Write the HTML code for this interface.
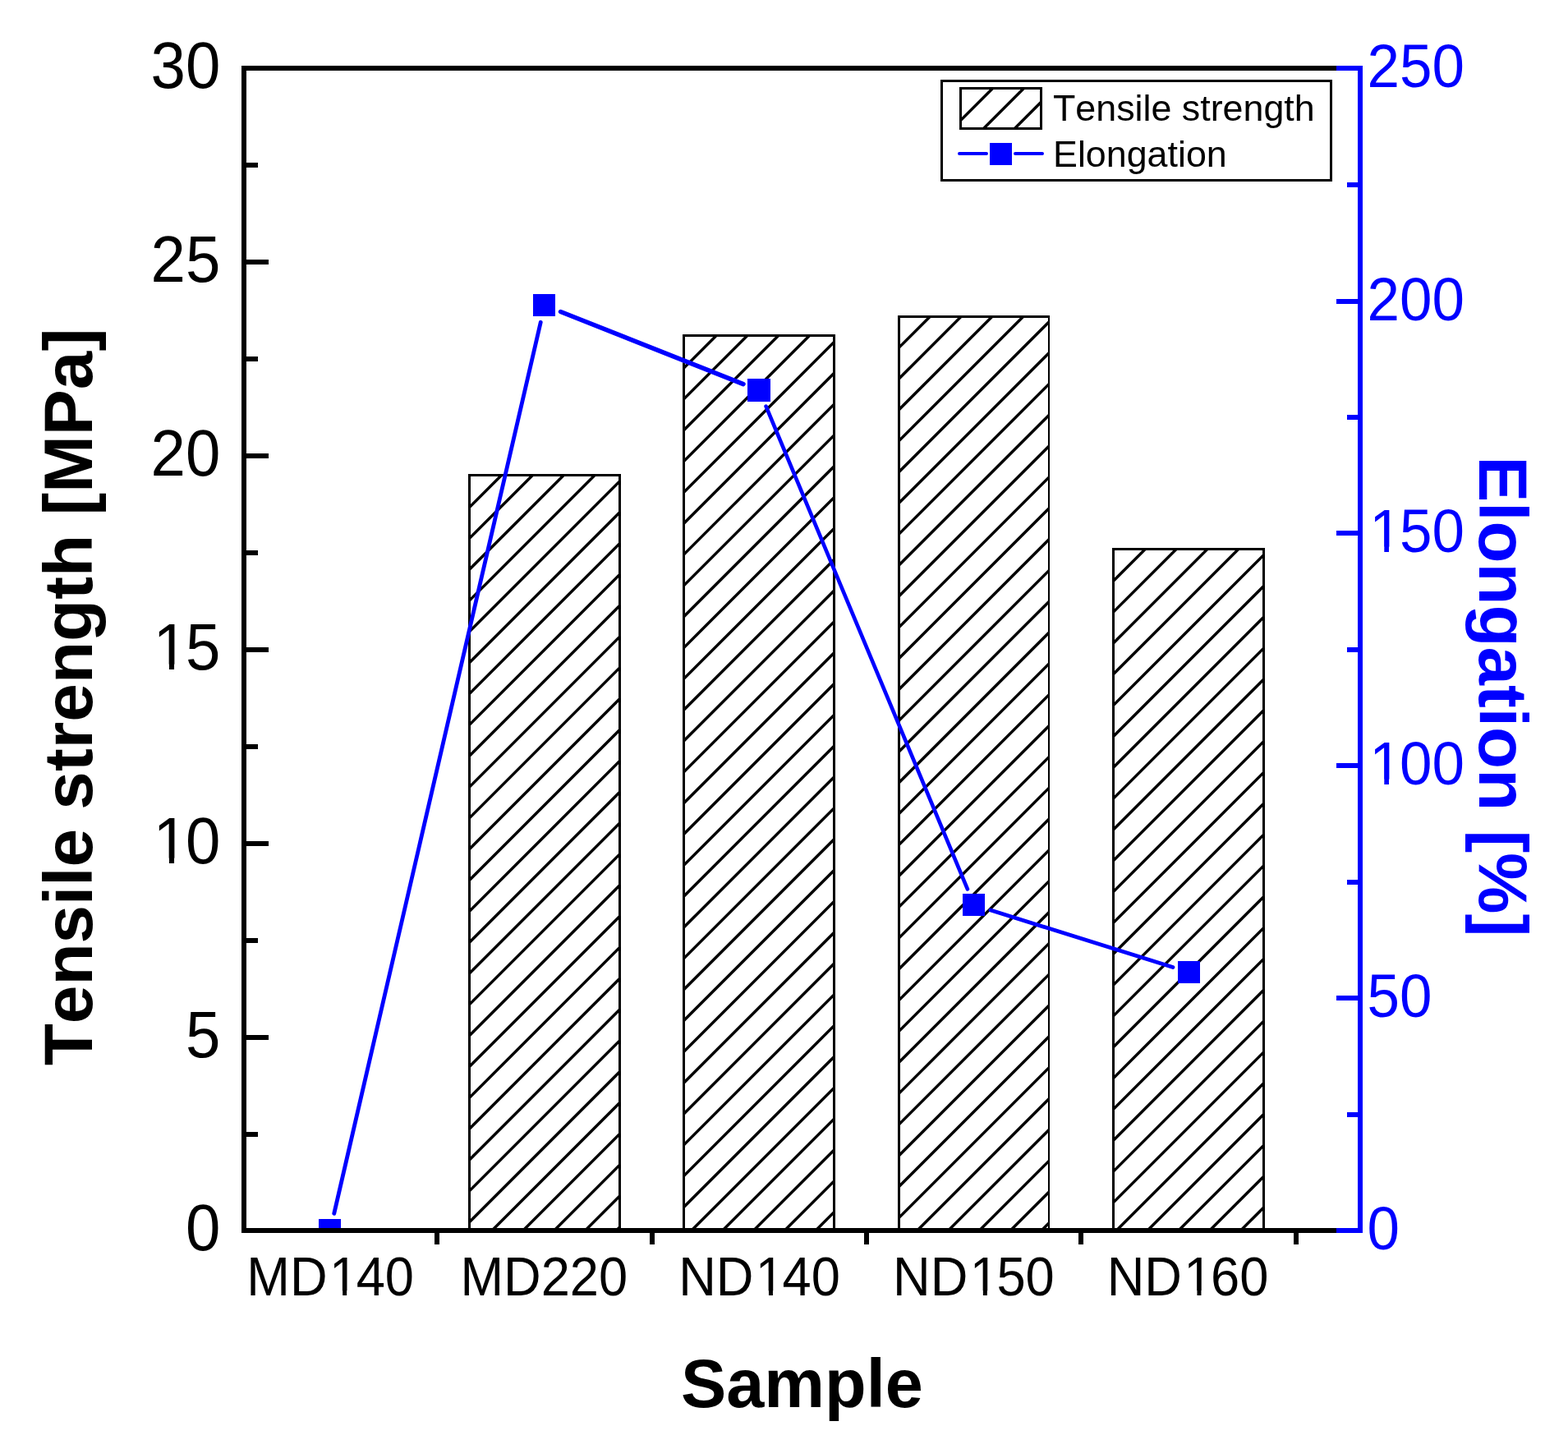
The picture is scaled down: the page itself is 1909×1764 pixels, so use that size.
<!DOCTYPE html>
<html lang="en">
<head>
<meta charset="utf-8">
<title>Tensile strength and elongation by sample</title>
<style>
html,body{margin:0;padding:0;background:#fff;}
body{width:1909px;height:1764px;overflow:hidden;font-family:'Liberation Sans', Arial, Helvetica, sans-serif;}
svg{display:block;}
text{white-space:pre;font-kerning:none;font-variant-ligatures:none;}
</style>
</head>
<body>
<svg width="1909" height="1764" viewBox="0 0 1909 1764" role="img" aria-label="Bar and line chart of tensile strength and elongation for five samples">
<rect x="0" y="0" width="1909" height="1764" fill="#fff"/>
<g id="bars">
<clipPath id="c1"><rect x="573" y="580" width="180" height="917"/></clipPath>
<rect x="570" y="577" width="186" height="920" fill="#000" shape-rendering="crispEdges"/>
<rect x="573" y="580" width="180" height="917" fill="#fff" shape-rendering="crispEdges"/>
<path d="M567.00 622.10L759.00 430.10M567.00 659.93L759.00 467.93M567.00 697.76L759.00 505.76M567.00 735.59L759.00 543.59M567.00 773.42L759.00 581.42M567.00 811.25L759.00 619.25M567.00 849.08L759.00 657.08M567.00 886.91L759.00 694.91M567.00 924.74L759.00 732.74M567.00 962.57L759.00 770.57M567.00 1000.40L759.00 808.40M567.00 1038.23L759.00 846.23M567.00 1076.06L759.00 884.06M567.00 1113.89L759.00 921.89M567.00 1151.72L759.00 959.72M567.00 1189.55L759.00 997.55M567.00 1227.38L759.00 1035.38M567.00 1265.21L759.00 1073.21M567.00 1303.04L759.00 1111.04M567.00 1340.87L759.00 1148.87M567.00 1378.70L759.00 1186.70M567.00 1416.53L759.00 1224.53M567.00 1454.36L759.00 1262.36M567.00 1492.19L759.00 1300.19M567.00 1530.02L759.00 1338.02M567.00 1567.85L759.00 1375.85M567.00 1605.68L759.00 1413.68M567.00 1643.51L759.00 1451.51M567.00 1681.34L759.00 1489.34" stroke="#000" stroke-width="3.45" fill="none" clip-path="url(#c1)"/>
<clipPath id="c2"><rect x="834" y="410" width="180" height="1087"/></clipPath>
<rect x="831" y="407" width="186" height="1090" fill="#000" shape-rendering="crispEdges"/>
<rect x="834" y="410" width="180" height="1087" fill="#fff" shape-rendering="crispEdges"/>
<path d="M828.00 452.60L1020.00 260.60M828.00 490.43L1020.00 298.43M828.00 528.26L1020.00 336.26M828.00 566.09L1020.00 374.09M828.00 603.92L1020.00 411.92M828.00 641.75L1020.00 449.75M828.00 679.58L1020.00 487.58M828.00 717.41L1020.00 525.41M828.00 755.24L1020.00 563.24M828.00 793.07L1020.00 601.07M828.00 830.90L1020.00 638.90M828.00 868.73L1020.00 676.73M828.00 906.56L1020.00 714.56M828.00 944.39L1020.00 752.39M828.00 982.22L1020.00 790.22M828.00 1020.05L1020.00 828.05M828.00 1057.88L1020.00 865.88M828.00 1095.71L1020.00 903.71M828.00 1133.54L1020.00 941.54M828.00 1171.37L1020.00 979.37M828.00 1209.20L1020.00 1017.20M828.00 1247.03L1020.00 1055.03M828.00 1284.86L1020.00 1092.86M828.00 1322.69L1020.00 1130.69M828.00 1360.52L1020.00 1168.52M828.00 1398.35L1020.00 1206.35M828.00 1436.18L1020.00 1244.18M828.00 1474.01L1020.00 1282.01M828.00 1511.84L1020.00 1319.84M828.00 1549.67L1020.00 1357.67M828.00 1587.50L1020.00 1395.50M828.00 1625.33L1020.00 1433.33M828.00 1663.16L1020.00 1471.16" stroke="#000" stroke-width="3.45" fill="none" clip-path="url(#c2)"/>
<clipPath id="c3"><rect x="1096" y="387" width="180" height="1110"/></clipPath>
<rect x="1093" y="384" width="185" height="1113" fill="#000" shape-rendering="crispEdges"/>
<rect x="1096" y="387" width="180" height="1110" fill="#fff" shape-rendering="crispEdges"/>
<path d="M1090.00 427.65L1282.00 235.65M1090.00 465.48L1282.00 273.48M1090.00 503.31L1282.00 311.31M1090.00 541.14L1282.00 349.14M1090.00 578.97L1282.00 386.97M1090.00 616.80L1282.00 424.80M1090.00 654.63L1282.00 462.63M1090.00 692.46L1282.00 500.46M1090.00 730.29L1282.00 538.29M1090.00 768.12L1282.00 576.12M1090.00 805.95L1282.00 613.95M1090.00 843.78L1282.00 651.78M1090.00 881.61L1282.00 689.61M1090.00 919.44L1282.00 727.44M1090.00 957.27L1282.00 765.27M1090.00 995.10L1282.00 803.10M1090.00 1032.93L1282.00 840.93M1090.00 1070.76L1282.00 878.76M1090.00 1108.59L1282.00 916.59M1090.00 1146.42L1282.00 954.42M1090.00 1184.25L1282.00 992.25M1090.00 1222.08L1282.00 1030.08M1090.00 1259.91L1282.00 1067.91M1090.00 1297.74L1282.00 1105.74M1090.00 1335.57L1282.00 1143.57M1090.00 1373.40L1282.00 1181.40M1090.00 1411.23L1282.00 1219.23M1090.00 1449.06L1282.00 1257.06M1090.00 1486.89L1282.00 1294.89M1090.00 1524.72L1282.00 1332.72M1090.00 1562.55L1282.00 1370.55M1090.00 1600.38L1282.00 1408.38M1090.00 1638.21L1282.00 1446.21M1090.00 1676.04L1282.00 1484.04" stroke="#000" stroke-width="3.45" fill="none" clip-path="url(#c3)"/>
<clipPath id="c4"><rect x="1357" y="670" width="180" height="827"/></clipPath>
<rect x="1354" y="667" width="186" height="830" fill="#000" shape-rendering="crispEdges"/>
<rect x="1357" y="670" width="180" height="827" fill="#fff" shape-rendering="crispEdges"/>
<path d="M1351.00 711.80L1543.00 519.80M1351.00 749.63L1543.00 557.63M1351.00 787.46L1543.00 595.46M1351.00 825.29L1543.00 633.29M1351.00 863.12L1543.00 671.12M1351.00 900.95L1543.00 708.95M1351.00 938.78L1543.00 746.78M1351.00 976.61L1543.00 784.61M1351.00 1014.44L1543.00 822.44M1351.00 1052.27L1543.00 860.27M1351.00 1090.10L1543.00 898.10M1351.00 1127.93L1543.00 935.93M1351.00 1165.76L1543.00 973.76M1351.00 1203.59L1543.00 1011.59M1351.00 1241.42L1543.00 1049.42M1351.00 1279.25L1543.00 1087.25M1351.00 1317.08L1543.00 1125.08M1351.00 1354.91L1543.00 1162.91M1351.00 1392.74L1543.00 1200.74M1351.00 1430.57L1543.00 1238.57M1351.00 1468.40L1543.00 1276.40M1351.00 1506.23L1543.00 1314.23M1351.00 1544.06L1543.00 1352.06M1351.00 1581.89L1543.00 1389.89M1351.00 1619.72L1543.00 1427.72M1351.00 1657.55L1543.00 1465.55" stroke="#000" stroke-width="3.45" fill="none" clip-path="url(#c4)"/>
</g>
<clipPath id="plot"><rect x="294" y="80" width="1365" height="1415"/></clipPath>
<g id="series" clip-path="url(#plot)">
<path d="M406.74 1477.34L658.26 392.26" stroke="#0000ff" stroke-width="4.85" stroke-linecap="round" fill="none"/>
<path d="M682.53 379.53L904.97 467.57" stroke="#0000ff" stroke-width="5.5" stroke-linecap="round" fill="none"/>
<path d="M932.59 494.68L1177.91 1082.42" stroke="#0000ff" stroke-width="4.65" stroke-linecap="round" fill="none"/>
<path d="M1206.04 1108.07L1427.96 1177.53" stroke="#0000ff" stroke-width="4.8" stroke-linecap="round" fill="none"/>
<rect x="388" y="1484" width="27" height="27" fill="#0000ff" shape-rendering="crispEdges"/>
<rect x="649" y="358" width="27" height="27" fill="#0000ff" shape-rendering="crispEdges"/>
<rect x="910" y="461" width="28" height="28" fill="#0000ff" shape-rendering="crispEdges"/>
<rect x="1172" y="1088" width="27" height="27" fill="#0000ff" shape-rendering="crispEdges"/>
<rect x="1434" y="1170" width="27" height="27" fill="#0000ff" shape-rendering="crispEdges"/>
</g>
<g id="axes" shape-rendering="crispEdges">
<rect x="294" y="80" width="1333" height="6" fill="#000" />
<rect x="294" y="1495" width="1333" height="6" fill="#000" />
<rect x="294" y="80" width="6" height="1421" fill="#000" />
<rect x="300" y="198" width="14" height="6" fill="#000" />
<rect x="300" y="316" width="27" height="6" fill="#000" />
<rect x="300" y="434" width="14" height="6" fill="#000" />
<rect x="300" y="552" width="27" height="6" fill="#000" />
<rect x="300" y="670" width="14" height="6" fill="#000" />
<rect x="300" y="788" width="27" height="6" fill="#000" />
<rect x="300" y="906" width="14" height="6" fill="#000" />
<rect x="300" y="1024" width="27" height="6" fill="#000" />
<rect x="300" y="1142" width="14" height="6" fill="#000" />
<rect x="300" y="1260" width="27" height="6" fill="#000" />
<rect x="300" y="1378" width="14" height="6" fill="#000" />
<rect x="529" y="1501" width="6" height="14" fill="#000" />
<rect x="791" y="1501" width="6" height="14" fill="#000" />
<rect x="1052" y="1501" width="6" height="14" fill="#000" />
<rect x="1313" y="1501" width="6" height="14" fill="#000" />
<rect x="1575" y="1501" width="6" height="14" fill="#000" />
<rect x="1653" y="80" width="6" height="1421" fill="#0000ff" />
<rect x="1627" y="80" width="26" height="6" fill="#0000ff" />
<rect x="1640" y="222" width="13" height="6" fill="#0000ff" />
<rect x="1627" y="364" width="26" height="6" fill="#0000ff" />
<rect x="1640" y="505" width="13" height="6" fill="#0000ff" />
<rect x="1627" y="646" width="26" height="6" fill="#0000ff" />
<rect x="1640" y="788" width="13" height="6" fill="#0000ff" />
<rect x="1627" y="929" width="26" height="6" fill="#0000ff" />
<rect x="1640" y="1071" width="13" height="6" fill="#0000ff" />
<rect x="1627" y="1212" width="26" height="6" fill="#0000ff" />
<rect x="1640" y="1354" width="13" height="6" fill="#0000ff" />
<rect x="1627" y="1495" width="26" height="6" fill="#0000ff" />
</g>
<g id="ticklabels" font-family="'Liberation Sans', Arial, Helvetica, sans-serif">
<text transform="translate(268.40 107.40) scale(0.9900 1.0250)" font-size="77" text-anchor="end" fill="#000">30</text>
<text transform="translate(268.40 343.40) scale(0.9900 1.0250)" font-size="77" text-anchor="end" fill="#000">25</text>
<text transform="translate(268.40 579.40) scale(0.9900 1.0250)" font-size="77" text-anchor="end" fill="#000">20</text>
<g transform="translate(268.40 815.40) scale(0.9900 1.0250)">
<text x="-85.65" y="0" font-size="77" text-anchor="start" fill="#000"><tspan dx="2.86">1</tspan><tspan dx="-2.86">5</tspan></text>
<rect x="-79.03" y="-6.58" width="15.91" height="7.33" fill="#fff"/>
<rect x="-56.93" y="-6.58" width="15.49" height="7.33" fill="#fff"/>
</g>
<g transform="translate(268.40 1051.40) scale(0.9900 1.0250)">
<text x="-85.65" y="0" font-size="77" text-anchor="start" fill="#000"><tspan dx="2.86">1</tspan><tspan dx="-2.86">0</tspan></text>
<rect x="-79.03" y="-6.58" width="15.91" height="7.33" fill="#fff"/>
<rect x="-56.93" y="-6.58" width="15.49" height="7.33" fill="#fff"/>
</g>
<text transform="translate(268.40 1287.40) scale(0.9900 1.0250)" font-size="77" text-anchor="end" fill="#000">5</text>
<text transform="translate(268.40 1522.40) scale(0.9900 1.0250)" font-size="77" text-anchor="end" fill="#000">0</text>
<text transform="translate(1664.50 105.90) scale(1.0000 1.0350)" font-size="71" text-anchor="start" fill="#0000ff">250</text>
<text transform="translate(1664.50 389.90) scale(1.0000 1.0350)" font-size="71" text-anchor="start" fill="#0000ff">200</text>
<g transform="translate(1664.50 671.90) scale(1.0000 1.0350)">
<text x="0.00" y="0" font-size="71" text-anchor="start" fill="#0000ff"><tspan dx="2.63">1</tspan><tspan dx="-2.63">5</tspan>0</text>
<rect x="6.10" y="-6.07" width="14.69" height="6.76" fill="#fff"/>
<rect x="26.46" y="-6.07" width="14.31" height="6.76" fill="#fff"/>
</g>
<g transform="translate(1664.50 954.90) scale(1.0000 1.0350)">
<text x="0.00" y="0" font-size="71" text-anchor="start" fill="#0000ff"><tspan dx="2.63">1</tspan><tspan dx="-2.63">0</tspan>0</text>
<rect x="6.10" y="-6.07" width="14.69" height="6.76" fill="#fff"/>
<rect x="26.46" y="-6.07" width="14.31" height="6.76" fill="#fff"/>
</g>
<text transform="translate(1664.50 1237.90) scale(1.0000 1.0350)" font-size="71" text-anchor="start" fill="#0000ff">50</text>
<text transform="translate(1664.50 1520.90) scale(1.0000 1.0350)" font-size="71" text-anchor="start" fill="#0000ff">0</text>
<g transform="translate(402.20 1577.00) scale(1.0000 1.0500)">
<text x="-101.87" y="0" font-size="63.2" text-anchor="start" fill="#000">MD<tspan dx="2.35">1</tspan><tspan dx="-2.35">4</tspan>0</text>
<rect x="1.85" y="-5.40" width="13.11" height="6.02" fill="#fff"/>
<rect x="19.94" y="-5.40" width="12.77" height="6.02" fill="#fff"/>
</g>
<text transform="translate(662.30 1577.00) scale(1.0000 1.0500)" font-size="63.2" text-anchor="middle" fill="#000">MD220</text>
<g transform="translate(924.50 1577.00) scale(1.0000 1.0500)">
<text x="-98.36" y="0" font-size="63.2" text-anchor="start" fill="#000">ND<tspan dx="2.35">1</tspan><tspan dx="-2.35">4</tspan>0</text>
<rect x="-1.65" y="-5.40" width="13.11" height="6.02" fill="#fff"/>
<rect x="16.44" y="-5.40" width="12.77" height="6.02" fill="#fff"/>
</g>
<g transform="translate(1185.40 1577.00) scale(1.0000 1.0500)">
<text x="-98.36" y="0" font-size="63.2" text-anchor="start" fill="#000">ND<tspan dx="2.35">1</tspan><tspan dx="-2.35">5</tspan>0</text>
<rect x="-1.65" y="-5.40" width="13.11" height="6.02" fill="#fff"/>
<rect x="16.44" y="-5.40" width="12.77" height="6.02" fill="#fff"/>
</g>
<g transform="translate(1446.00 1577.00) scale(1.0000 1.0500)">
<text x="-98.36" y="0" font-size="63.2" text-anchor="start" fill="#000">ND<tspan dx="2.35">1</tspan><tspan dx="-2.35">6</tspan>0</text>
<rect x="-1.65" y="-5.40" width="13.11" height="6.02" fill="#fff"/>
<rect x="16.44" y="-5.40" width="12.77" height="6.02" fill="#fff"/>
</g>
</g>
<g id="titles" font-family="'Liberation Sans', Arial, Helvetica, sans-serif">
<text transform="translate(976.40 1713.00) scale(0.9870 1.0000)" font-size="84" text-anchor="middle" fill="#000" font-weight="bold">Sample</text>
<text transform="translate(112.00 848.50) rotate(-90) scale(0.9966 1.0000)" font-size="84" text-anchor="middle" fill="#000" font-weight="bold">Tensile strength [MPa]</text>
<text transform="translate(1801.00 847.90) rotate(90) scale(0.9950 1.0000)" font-size="84" text-anchor="middle" fill="#0000ff" font-weight="bold">Elongation [%]</text>
</g>
<g id="legend">
<rect x="1145" y="97" width="477" height="124" fill="#000" shape-rendering="crispEdges"/>
<rect x="1148" y="100" width="471" height="118" fill="#fff" shape-rendering="crispEdges"/>
<clipPath id="c5"><rect x="1171" y="109" width="95" height="46"/></clipPath>
<rect x="1168" y="106" width="101" height="52" fill="#000" shape-rendering="crispEdges"/>
<rect x="1171" y="109" width="95" height="46" fill="#fff" shape-rendering="crispEdges"/>
<path d="M1165.00 151.15L1272.00 44.15M1165.00 188.98L1272.00 81.98M1165.00 226.81L1272.00 119.81M1165.00 264.64L1272.00 157.64" stroke="#000" stroke-width="3.45" fill="none" clip-path="url(#c5)"/>
<path d="M1168 187H1201M1236 187H1269" stroke="#0000ff" stroke-width="4" stroke-linecap="round" fill="none"/>
<rect x="1205" y="174" width="27" height="27" fill="#0000ff" shape-rendering="crispEdges"/>
<g font-family="'Liberation Sans', Arial, Helvetica, sans-serif">
<text transform="translate(1282.00 147.10)" font-size="44.8" text-anchor="start" fill="#000">Tensile strength</text>
<text transform="translate(1282.00 203.20)" font-size="44.8" text-anchor="start" fill="#000">Elongation</text>
</g>
</g>
</svg>
</body>
</html>
